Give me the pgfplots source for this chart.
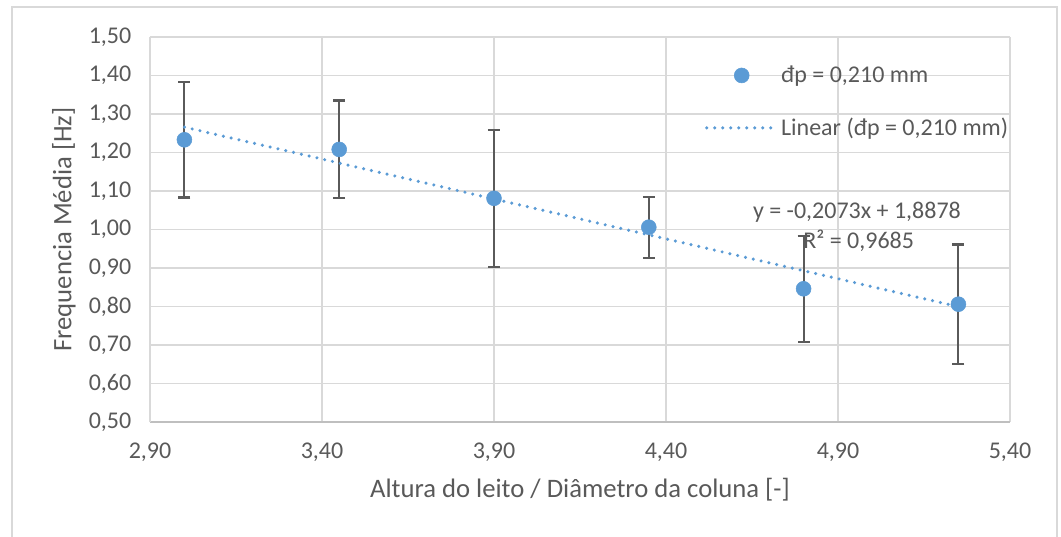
\documentclass[border=0pt]{standalone}
\usepackage{pgfplots}
\pgfplotsset{compat=1.18}
\usepackage{pgfplotstable}
\usepackage{fontspec}
\setmainfont{Carlito}

\definecolor{ptblue}{HTML}{5B9BD5}
\definecolor{txtgray}{HTML}{595959}
\definecolor{errgray}{HTML}{5A5A5A}
\definecolor{gridgray}{HTML}{D9D9D9}
\definecolor{axgray}{HTML}{BFBFBF}

\pgfplotsset{
  trendlegend/.style={legend image code/.code={\draw[##1] (0pt,0pt) -- (52.5pt,0pt);}},
  marklegend/.style={legend image code/.code={\draw[mark repeat=2, mark phase=2, ##1] plot coordinates {(0pt,0pt) (26.25pt,0pt) (52.5pt,0pt)};}},
}

% x, mean frequency, half width of the error bar
\pgfplotstableread{
x     y      e
3.00  1.233  0.150
3.45  1.208  0.127
3.90  1.081  0.178
4.35  1.006  0.079
4.80  0.846  0.138
5.25  0.806  0.155
}\freqdata

% ends of the linear trend y = -0.2073x + 1.8878
\pgfplotstableread{
x     y
3.00  1.2659
5.25  0.7995
}\trenddata

\begin{document}
\begin{tikzpicture}
\useasboundingbox (-112.5pt,-85.5pt) rectangle (683.25pt,316.5pt);
\draw[gridgray, line width=0.9pt] (-103.5pt,-86pt) -- (-103.5pt,311.25pt) -- (680.25pt,311.25pt) -- (680.25pt,-86pt);
\begin{axis}[
    at={(0,0)}, anchor=south west,
    scale only axis,
    width=645pt, height=288.75pt,
    xmin=2.9, xmax=5.4,
    ymin=0.5, ymax=1.5,
    xtick={2.9,3.4,3.9,4.4,4.9,5.4},
    ytick={0.5,0.6,0.7,0.8,0.9,1.0,1.1,1.2,1.3,1.4,1.5},
    grid=major,
    grid style={gridgray, line width=0.9pt},
    axis x line=bottom, axis y line=left,
    x axis line style={axgray, line width=1.2pt, -},
    y axis line style={gridgray, line width=0.9pt, -},
    major tick length=0pt,
    tick label style={font=\fontsize{18}{20}\selectfont, text=txtgray},
    /pgf/number format/.cd, fixed, fixed zerofill, precision=2, use comma, assume math mode=true,
    /pgfplots/.cd,
    yticklabel style={xshift=-10.5pt},
    xticklabel style={yshift=-12pt},
    xlabel={Altura do leito / Diâmetro da coluna [-]},
    ylabel={Frequencia Média [Hz]},
    label style={font=\fontsize{20}{22}\selectfont, text=txtgray},
    xlabel style={at={(axis description cs:0.5,-0.1766)}, anchor=center},
    ylabel style={at={(axis description cs:-0.1,0.5)}, anchor=center},
    legend style={draw=none, fill=none, at={(axis description cs:0.645,0.932)}, anchor=north west,
        font=\fontsize{18}{20}\selectfont, text=txtgray, row sep=21pt, inner sep=0pt,
        /tikz/every even column/.append style={column sep=4pt}},
    legend cell align=left,
    clip=false,
]
\addplot[only marks, mark=*, mark size=5.6pt, color=ptblue, marklegend,
    error bars/.cd, y dir=both, y explicit,
    error bar style={line width=1.6pt, errgray},
    error mark options={rotate=90, mark size=4.5pt, line width=1.6pt, errgray},
    ]
    table[x=x, y=y, y error=e] {\freqdata};
\addlegendentry{đp = 0,210 mm}
\addplot[ptblue, line width=2.6pt, line cap=round, dash pattern=on 0pt off 6pt, trendlegend]
    table[x=x, y=y] {\trenddata};
\addlegendentry{Linear (đp = 0,210 mm)}
\node[font=\fontsize{18}{20}\selectfont, text=txtgray] at (axis cs:4.955,1.0455) {y = -0,2073x + 1,8878};
\node[font=\fontsize{18}{20}\selectfont, text=txtgray] at (axis cs:4.96,0.970) {R² = 0,9685};
\end{axis}
\end{tikzpicture}
\end{document}
